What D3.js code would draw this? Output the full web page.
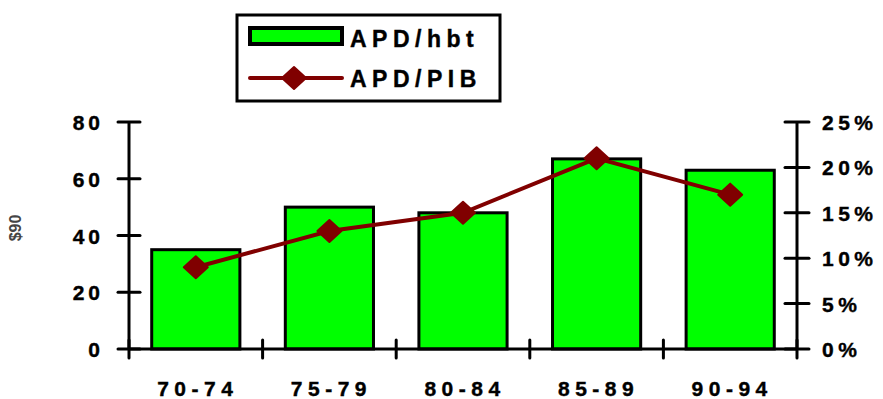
<!DOCTYPE html>
<html>
<head>
<meta charset="utf-8">
<script src="https://cdn.jsdelivr.net/npm/d3@7"></script>
<style>
  body { margin: 0; background: #fff; }
  text { font-family: "Liberation Sans", Arial, sans-serif; font-weight: bold; }
</style>
</head>
<body>
<div id="chart"></div>
<script>
// data
var periods = ["70-74", "75-79", "80-84", "85-89", "90-94"];
var apdHbt = [35, 50, 48, 67, 63];          // $90 per inhabitant
var apdPib = [0.09, 0.13, 0.15, 0.21, 0.17]; // share of GDP
var leftTicks = [0, 20, 40, 60, 80];
var rightTicks = [0, 0.05, 0.10, 0.15, 0.20, 0.25];

(function() {
var W = 883, H = 399;
var mLeft = 129, mRight = 797, mTop = 122, mBottom = 349;

var svg = d3.select("#chart").append("svg")
    .attr("width", W).attr("height", H);

var x = d3.scaleBand().domain(periods).range([mLeft, mRight]).paddingInner(0.34).paddingOuter(0.17);
var xTicks = d3.scaleBand().domain(periods).range([mLeft, mRight]);
var yL = d3.scaleLinear().domain([0, 80]).range([mBottom, mTop]);
var yR = d3.scaleLinear().domain([0, 0.25]).range([mBottom, mTop]);

// bars
svg.selectAll(".bar").data(apdHbt).enter().append("rect")
    .attr("class", "bar")
    .attr("x", (d, i) => x(periods[i]))
    .attr("y", d => yL(d))
    .attr("width", x.bandwidth())
    .attr("height", d => mBottom - yL(d))
    .attr("fill", "#00ff00")
    .attr("stroke", "#000")
    .attr("stroke-width", 3);

// left axis
var ga = svg.append("g");
ga.append("line").attr("x1", mLeft).attr("x2", mLeft).attr("y1", mTop).attr("y2", mBottom)
    .attr("stroke", "#000").attr("stroke-width", 3);
ga.selectAll(".lt").data(leftTicks).enter().append("line")
    .attr("x1", mLeft - 11).attr("x2", mLeft + 11)
    .attr("y1", d => yL(d)).attr("y2", d => yL(d))
    .attr("stroke", "#000").attr("stroke-width", 3).attr("stroke-linecap", "round");
ga.selectAll(".ll").data(leftTicks).enter().append("text")
    .attr("x", 104).attr("y", d => yL(d) + 8)
    .attr("text-anchor", "end").attr("font-size", 21).attr("letter-spacing", 4)
    .attr("stroke", "#000").attr("stroke-width", 0.4)
    .text(d => d);

// right axis
ga.append("line").attr("x1", mRight).attr("x2", mRight).attr("y1", mTop).attr("y2", mBottom)
    .attr("stroke", "#000").attr("stroke-width", 3);
ga.selectAll(".rt").data(rightTicks).enter().append("line")
    .attr("x1", mRight - 12).attr("x2", mRight + 12)
    .attr("y1", d => yR(d)).attr("y2", d => yR(d))
    .attr("stroke", "#000").attr("stroke-width", 3).attr("stroke-linecap", "round");
ga.selectAll(".rl").data(rightTicks).enter().append("text")
    .attr("x", 822).attr("y", d => yR(d) + 8)
    .attr("font-size", 21).attr("letter-spacing", 4.5)
    .attr("stroke", "#000").attr("stroke-width", 0.4)
    .text(d => Math.round(d * 100) + "%");

// bottom axis
ga.append("line").attr("x1", mLeft).attr("x2", mRight).attr("y1", mBottom).attr("y2", mBottom)
    .attr("stroke", "#000").attr("stroke-width", 3);
var edges = periods.map(p => xTicks(p)).concat([mRight]);
ga.selectAll(".bt").data(edges).enter().append("line")
    .attr("x1", d => d).attr("x2", d => d)
    .attr("y1", mBottom - 9).attr("y2", mBottom + 9)
    .attr("stroke", "#000").attr("stroke-width", 3).attr("stroke-linecap", "round");
ga.selectAll(".bl").data(periods).enter().append("text")
    .attr("x", d => xTicks(d) + xTicks.bandwidth() / 2 + 2).attr("y", 396)
    .attr("text-anchor", "middle").attr("font-size", 21).attr("letter-spacing", 5.5)
    .attr("stroke", "#000").attr("stroke-width", 0.4)
    .text(d => d);

// y label
svg.append("text")
    .attr("transform", "translate(21,228) rotate(-90)")
    .attr("text-anchor", "middle").attr("font-size", 16).attr("fill", "#444")
    .text("$90");

// line + diamonds
var cx = (d, i) => x(periods[i]) + x.bandwidth() / 2;
var line = d3.line().x(cx).y(d => yR(d));
svg.append("path").datum(apdPib)
    .attr("d", line).attr("fill", "none")
    .attr("stroke", "#800000").attr("stroke-width", 4);
var diamond = "M0,-11L12,0L0,11L-12,0Z";
svg.selectAll(".pt").data(apdPib).enter().append("path")
    .attr("transform", (d, i) => "translate(" + cx(d, i) + "," + yR(d) + ")")
    .attr("d", diamond).attr("fill", "#800000")
    .attr("stroke", "#800000").attr("stroke-width", 2).attr("stroke-linejoin", "round");

// legend
var lg = svg.append("g");
lg.append("rect").attr("x", 237).attr("y", 15).attr("width", 263).attr("height", 86)
    .attr("fill", "#fff").attr("stroke", "#000").attr("stroke-width", 3);
lg.append("rect").attr("x", 250).attr("y", 28).attr("width", 92).attr("height", 16)
    .attr("fill", "#00ff00").attr("stroke", "#000").attr("stroke-width", 4);
lg.append("text").attr("x", 350).attr("y", 47).attr("font-size", 23).attr("letter-spacing", 5.5)
    .attr("stroke", "#000").attr("stroke-width", 0.4)
    .text("APD/hbt");
lg.append("line").attr("x1", 250).attr("x2", 342).attr("y1", 78).attr("y2", 78)
    .attr("stroke", "#800000").attr("stroke-width", 4).attr("stroke-linecap", "round");
lg.append("path").attr("transform", "translate(294,78)").attr("d", diamond)
    .attr("fill", "#800000").attr("stroke", "#800000").attr("stroke-width", 2).attr("stroke-linejoin", "round");
lg.append("text").attr("x", 350).attr("y", 87).attr("font-size", 23).attr("letter-spacing", 5.5)
    .attr("stroke", "#000").attr("stroke-width", 0.4)
    .text("APD/PIB");
})();
</script>
</body>
</html>
